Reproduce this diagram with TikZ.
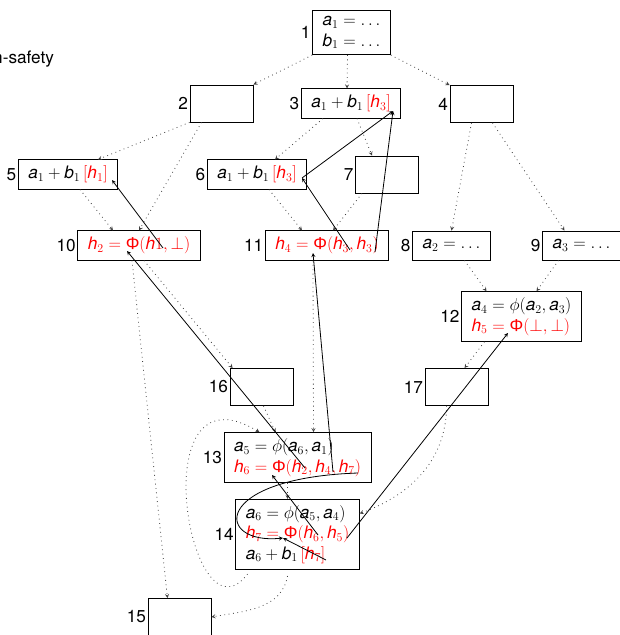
\documentclass[tikz,border=0pt]{standalone}
\usepackage{fontspec}
\setmainfont{TeX Gyre Heros}
\newfontfamily\grkfont{Liberation Sans}
\usepackage{amsmath}
\usepackage{amssymb}

\newcommand{\va}[1]{\mathit{a}_{#1}}
\newcommand{\vb}[1]{\mathit{b}_{#1}}
\newcommand{\vh}[1]{\mathit{h}_{#1}}
\newcommand{\PhiS}{\text{\grkfont Φ}}
\newcommand{\redt}[1]{\textcolor{red}{#1}}

\begin{document}
\begin{tikzpicture}[x=1pt, y=-1pt, >=stealth,
  every node/.style={font=\fontsize{17.2}{20.5}\selectfont},
  every label/.style={inner sep=1.5pt},
  blk/.style={draw, line width=0.8pt, inner xsep=10pt, inner ysep=6pt, minimum height=29pt, align=left},
  emptybox/.style={blk, minimum width=63pt, minimum height=37pt},
  cfg/.style={->, black!75, line width=0.8pt, dash pattern=on 0.8pt off 3.6pt},
  link/.style={->, line width=0.8pt}]
\useasboundingbox (0,0) rectangle (620,635);
\node [anchor=base east] (title) at (57.5,63) {n-safety};

\node [blk, label=left:1] (n1) at (351.5,32.5) {$\va1 = \ldots$\\$\vb1 = \ldots$};
\node [emptybox, label=left:2] (n2) at (221.5,103.5) {};
\node [blk, label=left:3] (n3) at (351,103.5) {$\va1 + \vb1\,\redt{[\vh3]}$};
\node [emptybox, label=left:4] (n4) at (481.5,104) {};
\node [blk, label=left:5] (n5) at (68,174.5) {$\va1 + \vb1\,\redt{[\vh1]}$};
\node [blk, label=left:6] (n6) at (257,174.5) {$\va1 + \vb1\,\redt{[\vh3]}$};
\node [emptybox, label=left:7] (n7) at (387,174.5) {};
\node [blk, label=left:8] (n8) at (451.5,245.5) {$\va2 = \ldots$};
\node [blk, label=left:9] (n9) at (581.5,245.5) {$\va3 = \ldots$};
\node [blk, label=left:10] (n10) at (139,245.5) {$\redt{\vh2 = \PhiS(\mathit{h}1, \bot)}$};
\node [blk, label=left:11] (n11) at (327,245.5) {$\redt{\vh4 = \PhiS(\vh3, \vh3)}$};
\node [blk, label=left:12] (n12) at (521.5,316.5) {$\va4 = \phi(\va2, \va3)$\\$\redt{\vh5 = \PhiS(\bot, \bot)}$};
\node [blk, label=left:13] (n13) at (297.5,457.5) {$\va5 = \phi(\va6, \va1)$\\$\redt{\vh6 = \PhiS(\vh2, \vh4, \vh7)}$};
\node [blk, label=left:14] (n14) at (297.5,534.5) {$\va6 = \phi(\va5, \va4)$\\$\redt{\vh7 = \PhiS(\vh6, \vh5)}$\\$\va6 + \vb1\,\redt{[\vh7]}$};
\node [emptybox, label=left:15] (n15) at (179.5,617) {};
\node [emptybox, label=left:16] (n16) at (261.5,387) {};
\node [emptybox, label=left:17] (n17) at (456.5,387) {};

% control flow
\draw [cfg] (n1.south west) -- (n2.north east);
\draw [cfg] ([xshift=-4]n1.south) -- ([xshift=-4]n3.north);
\draw [cfg] (n1.south east) -- (n4.north west);
\draw [cfg] (n2.south west) -- ([xshift=30]n5.north);
\draw [cfg] ([xshift=-20]n2.south) -- (n10.north);
\draw [cfg] ([xshift=-28]n3.south) -- ([xshift=18]n6.north);
\draw [cfg] ([xshift=6]n3.south) -- ([xshift=-15]n7.north);
\draw [cfg] ([xshift=-10]n4.south) -- (n8.north);
\draw [cfg] ([xshift=11]n4.south) -- ([xshift=-17]n9.north);
\draw [cfg] ([xshift=12]n5.south) -- ([xshift=-26]n10.north);
\draw [cfg] ([xshift=12]n6.south) -- ([xshift=-25]n11.north);
\draw [cfg] ([xshift=-25]n7.south) -- ([xshift=6]n11.north);
\draw [cfg] ([xshift=13]n8.south) -- ([xshift=-35]n12.north);
\draw [cfg] ([xshift=-23]n9.south) -- ([xshift=15]n12.north);
\draw [cfg] ([xshift=5]n10.south) -- ([xshift=3]n16.north west);
\draw [cfg] ([xshift=-7]n10.south) -- ([xshift=-12]n15.north);
\draw [cfg] ([xshift=-14]n11.south) -- ([xshift=16]n13.north);
\draw [cfg] ([xshift=-37]n12.south) -- ([xshift=8]n17.north);
\draw [cfg] ([xshift=2]n16.south) -- ([xshift=-22]n13.north);
\draw [cfg] ([xshift=-10]n13.south) -- ([xshift=-10]n14.north);
\draw [cfg] ([xshift=-10]n17.south) to[out=-90,in=20] ([yshift=21]n14.east);
\draw [cfg] ([xshift=-50,yshift=-4]n14.south) .. controls (190,650) and (140,360) .. ([xshift=-38]n13.north);
\draw [cfg] ([xshift=-10,yshift=-6]n14.south) to[out=-100,in=10] (n15.east);

% uses of the h values
\coordinate (p3) at (393,111);
\coordinate (p5) at (112,180);
\coordinate (p6) at (302,178);
\coordinate (p10a) at (163,248);
\coordinate (p10b) at (127,251);
\coordinate (p11a) at (350,250);
\coordinate (p11b) at (375,252);
\coordinate (p11c) at (313,253);
\coordinate (p12) at (508,333);
\coordinate (p13a) at (305,468);
\coordinate (p13b) at (333,472);
\coordinate (p13c) at (272,475);
\coordinate (p13d) at (358,473);
\coordinate (p14a) at (318,535);
\coordinate (p14b) at (347,538);
\coordinate (p14c) at (283,538);
\coordinate (p14d) at (326,560);
\draw [link] (p10a) -- (p5);
\draw [link] (p11a) -- (p6);
\draw [link] (p6) -- (p3);
\draw [link] (p11b) -- (p3);
\draw [link] (p13a) -- (p10b);
\draw [link] (p13b) -- (p11c);
\draw [link] (p14a) -- (p13c);
\draw [link] (p14b) -- (p12);
\draw [link] (p13d) .. controls (210,478) and (215,545) .. (p14c);
\draw [link] (p14d) -- (p14c);
\end{tikzpicture}
\end{document}
